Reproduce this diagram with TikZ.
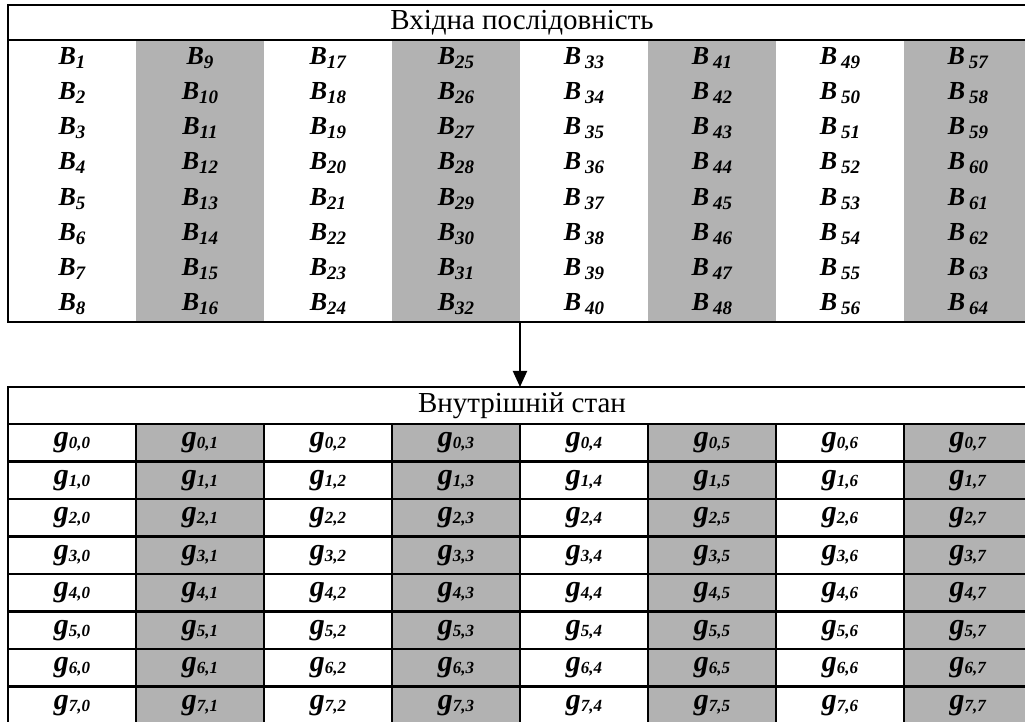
\documentclass[tikz,border=0pt]{standalone}
\usepackage{fontspec}
\setmainfont{Liberation Serif}
\usetikzlibrary{arrows.meta}
\definecolor{shaded}{gray}{0.7}
% Symbols for the cells: input block and state word
\newcommand{\Bsym}[2][]{\textbf{\textit{B}}#1\raisebox{-2pt}{\fontsize{9.5}{9.5}\selectfont\textbf{\textit{#2}}}}
\newcommand{\gsym}[2]{{\fontsize{15}{15}\selectfont\textbf{\textit{g}}}\raisebox{-1pt}{\fontsize{8.5}{8.5}\selectfont\textbf{\textit{#1,#2}}}}
\tikzset{
    % Cell styles for the two tables: header, input cell and state cell
    head cell/.style={rectangle,inner sep=0,outer sep=0,minimum width=514pt,font=\fontsize{14.5}{14.5}\selectfont},
    in cell/.style={rectangle,inner sep=0,outer sep=0,minimum width=64pt,minimum height=17.625pt},
    state cell/.style={rectangle,draw,line width=1.1pt,inner sep=0,outer sep=0,minimum width=64pt,minimum height=18.75pt},
    frame/.style={line width=1.4pt}, flow/.style={line width=1pt,-{Triangle[length=8pt,width=7pt]}}
    }
\begin{document}
\begin{tikzpicture}[x=0.5pt,y=-0.5pt,font=\fontsize{13}{13}\selectfont]
        \useasboundingbox (0,0) rectangle (1025,722);
        % The input sequence
        \node(in)[head cell,minimum height=17.5pt] at (522,22.5){Вхідна послідовність};
        \foreach \c in {0,...,7}{\foreach \r in {0,...,7}{
            \pgfmathtruncatemacro\n{8*\c+\r+1}
            \ifodd\c \def\fillc{shaded}\else\def\fillc{white}\fi
            \ifnum\c>3 \def\gap{\kern2pt}\else\def\gap{}\fi
            \node(b-\r-\c)[in cell,fill=\fillc] at (72+128*\c,57.625+35.25*\r){\Bsym[\gap]{\n}};
        }}
        \draw[frame] (in.north west) rectangle (b-7-7.south east);
        \draw[frame] (in.south west) -- (in.south east);
        % The internal state
        \node(state)[head cell,draw,line width=1.3pt,minimum height=18.5pt] at (522,405.5){Внутрішній стан};
        \foreach \c in {0,...,7}{\foreach \r in {0,...,7}{
            \ifodd\c \def\fillc{shaded}\else\def\fillc{white}\fi
            \node(g-\r-\c)[state cell,fill=\fillc] at (72+128*\c,442.75+37.5*\r){\gsym{\r}{\c}};
        }}
        \draw[flow] (b-7-3.south east) -- (b-7-3.south east |- state.north);
\end{tikzpicture}
\end{document}
